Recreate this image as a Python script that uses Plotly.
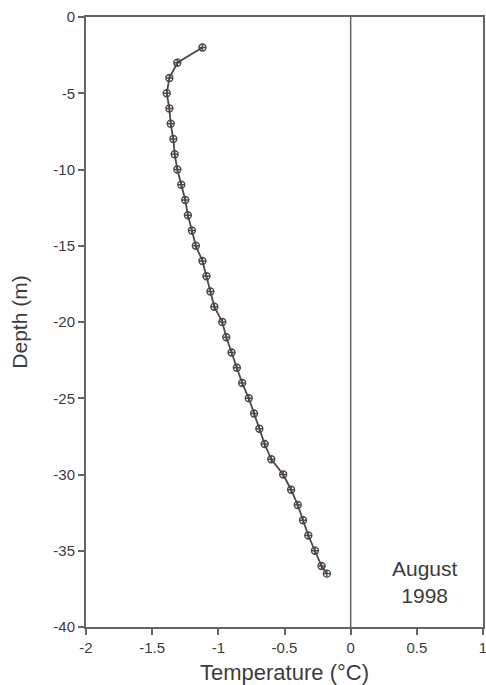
import plotly.graph_objects as go

depth = [-2, -3, -4, -5, -6, -7, -8, -9, -10, -11, -12, -13, -14, -15, -16, -17, -18, -19,
         -20, -21, -22, -23, -24, -25, -26, -27, -28, -29, -30, -31, -32, -33, -34, -35, -36, -36.5]
temperature = [-1.12, -1.31, -1.37, -1.39, -1.37, -1.36, -1.34, -1.33, -1.31, -1.28, -1.25,
               -1.23, -1.20, -1.17, -1.12, -1.09, -1.06, -1.03, -0.97, -0.94, -0.90, -0.86,
               -0.82, -0.77, -0.73, -0.69, -0.65, -0.60, -0.51, -0.45, -0.40, -0.36, -0.32,
               -0.27, -0.22, -0.18]

x_ticks = [-2, -1.5, -1, -0.5, 0, 0.5, 1]
y_ticks = [0, -5, -10, -15, -20, -25, -30, -35, -40]

axis_color = "#6a6260"
mark_color = "#4f4846"
text_color = "#3c3c3c"
font = "Liberation Sans, Arial, sans-serif"

fig = go.Figure()
fig.add_trace(go.Scatter(
    x=temperature, y=depth, mode="lines+markers",
    line=dict(color=mark_color, width=1.8),
    marker=dict(symbol="circle-cross-open", size=7, color=mark_color, line=dict(width=1.4)),
    showlegend=False,
))

fig.add_shape(type="line", x0=0, x1=0, y0=-40, y1=0, xref="x", yref="y",
              line=dict(color=axis_color, width=1.5))

fig.add_annotation(x=0.56, y=-37.05, text="August<br>1998", showarrow=False,
                   font=dict(family=font, size=21, color=text_color), xref="x", yref="y")

fig.update_layout(
    width=486, height=685,
    margin=dict(l=86, r=3, t=17, b=58),
    paper_bgcolor="white", plot_bgcolor="white",
    font=dict(family=font, color=text_color),
    xaxis=dict(range=[-2, 1], tickvals=x_ticks, ticktext=[str(v) for v in x_ticks],
               ticks="outside", ticklen=6, tickcolor=axis_color, tickwidth=1.5,
               showline=True, linecolor=axis_color, linewidth=2, mirror=True,
               showgrid=False, zeroline=False, automargin=False, ticklabeloverflow="allow",
               tickfont=dict(size=15, family=font, color=text_color),
               title=dict(text="Temperature (°C)", font=dict(size=22, family=font, color=text_color),
                          standoff=10)),
    yaxis=dict(range=[-40, 0], tickvals=y_ticks, ticktext=[str(v) for v in y_ticks],
               ticks="outside", ticklen=6, tickcolor=axis_color, tickwidth=1.5,
               showline=True, linecolor=axis_color, linewidth=2, mirror=True,
               showgrid=False, zeroline=False, automargin=False, ticklabeloverflow="allow",
               tickfont=dict(size=15, family=font, color=text_color),
               title=dict(text="Depth (m)", font=dict(size=21, family=font, color=text_color),
                          standoff=20)),
)

fig.write_html("out.html", config={"displayModeBar": False},
               post_script="document.body.style.margin='0';document.body.style.overflow='hidden';")
